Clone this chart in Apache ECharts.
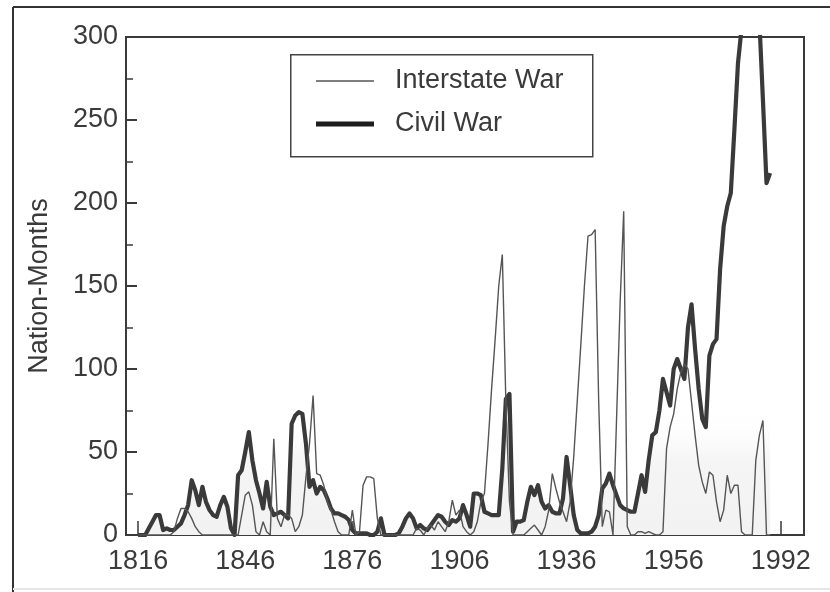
<!DOCTYPE html>
<html>
<head>
<meta charset="utf-8">
<script src="https://cdn.jsdelivr.net/npm/echarts@6/dist/echarts.min.js"></script>
<style>html,body{margin:0;padding:0;background:#fff;}#c{width:830px;height:592px;}</style>
</head>
<body>
<div id="c"></div>
<script>
// ---- data ----
const startYear = 1816;
const seriesNames = ['Interstate War', 'Civil War'];
const tickYears = [1816, 1846, 1876, 1906, 1936, 1966, 1996];
const tickLabels = ['1816', '1846', '1876', '1906', '1936', '1956', '1992'];
const yTicks = [0, 50, 100, 150, 200, 250, 300];

// Interstate war nation-months per year, 1816-1993
const interstate = [
  0, 0, 0, 0, 0, 0, 0, 0, 0, 0,          // 1816-1825
  2, 10, 16, 16, 14, 10, 5, 2, 0, 0,     // 1826-1835
  0, 0, 0, 0, 0, 0, 0, 0, 0, 12,         // 1836-1845
  24, 26, 18, 2, 0, 8, 2, 0, 58, 10,     // 1846-1855
  5, 12, 12, 10, 2, 5, 12, 35, 55, 84,   // 1856-1865
  37, 36, 30, 20, 15, 8, 2, 0, 0, 0,     // 1866-1875
  15, 0, 2, 30, 35, 35, 34, 10, 0, 0,    // 1876-1885
  0, 0, 0, 0, 0, 0, 0, 0, 4, 3,          // 1886-1895
  0, 4, 6, 3, 8, 5, 2, 8, 21, 12,        // 1896-1905
  15, 5, 2, 0, 2, 8, 20, 25, 55, 88,     // 1906-1915
  118, 150, 169, 80, 20, 0, 0, 0, 0, 2,  // 1916-1925
  4, 6, 3, 0, 5, 15, 37, 28, 20, 14,     // 1926-1935
  8, 20, 47, 81, 115, 150, 180, 181, 184, 80, // 1936-1945
  5, 15, 14, 0, 70, 140, 195, 5, 0, 0,   // 1946-1955
  2, 2, 1, 2, 1, 0, 0, 2, 52, 65,        // 1956-1965
  73, 88, 98, 103, 100, 80, 60, 42, 32, 25, // 1966-1975
  38, 36, 20, 8, 15, 36, 25, 30, 30, 2,  // 1976-1985
  0, 0, 0, 45, 60, 69, 0, 0              // 1986-1993
];

// Civil war nation-months per year, 1816-1993
const civil = [
  0, 0, 0, 4, 8, 12, 12, 3, 4, 3,        // 1816-1825
  3, 5, 7, 12, 18, 33, 27, 18, 29, 20,   // 1826-1835
  15, 12, 11, 18, 23, 17, 4, 0, 36, 39,  // 1836-1845
  50, 62, 45, 33, 25, 16, 32, 17, 12, 13, // 1846-1855
  14, 12, 10, 67, 72, 74, 73, 55, 29, 33, // 1856-1865
  25, 29, 27, 22, 16, 13, 13, 12, 11, 9, // 1866-1875
  3, 1, 1, 1, 1, 0, 0, 2, 10, 0,         // 1876-1885
  0, 0, 0, 1, 5, 10, 13, 10, 4, 6,       // 1886-1895
  4, 3, 6, 9, 12, 11, 8, 6, 9, 8,        // 1896-1905
  10, 18, 12, 5, 25, 25, 24, 14, 13, 12, // 1906-1915
  12, 12, 40, 82, 85, 2, 8, 8, 9, 20,    // 1916-1925
  29, 24, 30, 20, 16, 18, 14, 13, 13, 22, // 1926-1935
  47, 30, 12, 3, 1, 1, 1, 2, 5, 12,      // 1936-1945
  28, 31, 37, 30, 24, 18, 16, 15, 14, 14, // 1946-1955
  25, 36, 26, 45, 60, 62, 75, 94, 86, 78, // 1956-1965
  100, 106, 100, 94, 125, 139, 112, 88, 70, 65, // 1966-1975
  108, 115, 118, 160, 186, 198, 206, 244, 284, 305, // 1976-1985
  330, 345, 345, 335, 310, 262, 212, 218 // 1986-1993
];

const toPairs = arr => arr.map((v, i) => [startYear + i, v]);

const FONT = "'Liberation Sans', Arial, Helvetica, sans-serif";
const INK = '#3a3a3a';
const THIN = '#555555';

const chart = echarts.init(document.getElementById('c'), null, { renderer: 'canvas' });
chart.setOption({
  animation: false,
  backgroundColor: '#ffffff',
  grid: { left: 126, right: 26, top: 37, bottom: 57, show: true, borderColor: INK, borderWidth: 2, backgroundColor: 'transparent' },
  legend: {
    orient: 'vertical', left: 316, top: 67, padding: 0,
    itemWidth: 58, itemHeight: 14, itemGap: 15,
    selectedMode: false,
    textStyle: { fontFamily: FONT, fontSize: 27, color: INK, lineHeight: 28, padding: [0, 0, 0, 16] },
    data: [
      { name: seriesNames[0], icon: 'path://M0,0 L0,0 M0,6.2 L58,6.2 L58,7.8 L0,7.8 Z M0,14 L0,14', itemStyle: { color: THIN, borderWidth: 0 } },
      { name: seriesNames[1], icon: 'path://M0,0 L0,0 M0,4.5 L58,4.5 L58,9.5 L0,9.5 Z M0,14 L0,14', itemStyle: { color: '#1e1e1e', borderWidth: 0 } }
    ]
  },
  xAxis: {
    type: 'value', min: 1812.6, max: 2002.5,
    axisLine: { show: true, lineStyle: { color: INK, width: 2 } },
    axisTick: { show: true, inside: true, length: 14, customValues: tickYears, lineStyle: { color: INK, width: 1.5 } },
    axisLabel: {
      customValues: tickYears,
      formatter: v => { const i = tickYears.indexOf(v); return i >= 0 ? tickLabels[i] : ''; },
      fontFamily: FONT, fontSize: 27, color: INK, margin: 13
    },
    splitLine: { show: false }
  },
  yAxis: {
    type: 'value', min: 0, max: 300, interval: 50,
    name: 'Nation-Months', nameLocation: 'middle', nameGap: 73, nameRotate: 90,
    nameTextStyle: { fontFamily: FONT, fontSize: 27, color: INK },
    axisLine: { show: true, lineStyle: { color: INK, width: 2 } },
    axisTick: { show: true, inside: true, length: 11, lineStyle: { color: INK, width: 2 } },
    minorTick: { show: true, splitNumber: 2, length: 7, lineStyle: { color: INK, width: 1.5 } },
    axisLabel: { fontFamily: FONT, fontSize: 27, color: INK, margin: 8,
      formatter: v => (yTicks.indexOf(v) >= 0 ? String(v) : '') },
    splitLine: { show: false }
  },
  series: [
    {
      name: seriesNames[1], type: 'line', data: toPairs(civil), symbol: 'none', z: 2,
      lineStyle: { color: INK, width: 4.2, join: 'round' },
      itemStyle: { color: INK },
      areaStyle: {
        opacity: 1,
        color: { type: 'linear', global: true, x: 0, y: 535, x2: 0, y2: 410,
          colorStops: [ { offset: 0, color: '#f2f2f2' }, { offset: 0.6, color: '#f5f5f5' }, { offset: 1, color: 'rgba(255,255,255,0)' } ] }
      }
    },
    {
      name: seriesNames[0], type: 'line', data: toPairs(interstate), symbol: 'none', z: 3,
      lineStyle: { color: THIN, width: 1.4 },
      itemStyle: { color: THIN }
    }
  ],
  graphic: [
    { type: 'rect', left: 290, top: 54, shape: { width: 302, height: 102 }, style: { fill: 'transparent', stroke: '#444', lineWidth: 1.5 }, z: 10 },
    { type: 'line', shape: { x1: 13, y1: 7, x2: 13, y2: 592 }, style: { stroke: '#333', lineWidth: 2 }, z: 10 },
    { type: 'line', shape: { x1: 13, y1: 7, x2: 830, y2: 7 }, style: { stroke: '#333', lineWidth: 2 }, z: 10 },
    { type: 'line', shape: { x1: 13, y1: 589, x2: 830, y2: 589 }, style: { stroke: '#e6e6e6', lineWidth: 2 }, z: 10 }
  ]
});
</script>
</body>
</html>
